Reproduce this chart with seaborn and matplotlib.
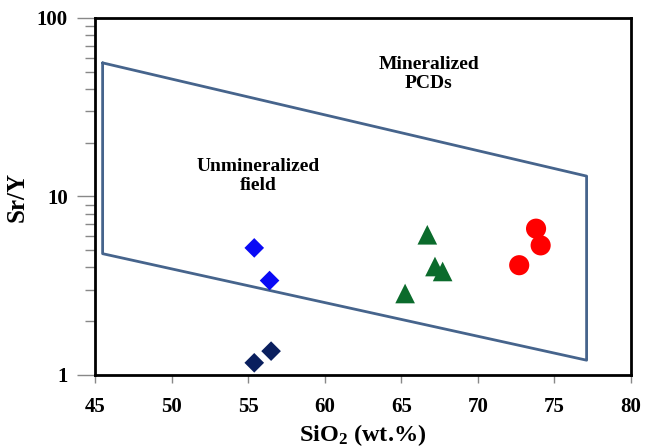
import numpy as np
import pandas as pd
import matplotlib
matplotlib.use("Agg")
import matplotlib.pyplot as plt
import seaborn as sns

# ---- data ----
blue_x = [55.4, 56.4]
blue_y = [5.15, 3.38]
navy_x = [55.4, 56.5]
navy_y = [1.17, 1.36]
green_x = [66.7, 67.2, 67.7, 65.25]
green_y = [6.1, 4.05, 3.8, 2.86]
red_x = [73.8, 74.1, 72.7]
red_y = [6.6, 5.32, 4.12]

field_x = [45.5, 77.1, 77.1, 45.5, 45.5]
field_y = [56.0, 13.0, 1.21, 4.78, 56.0]

x_ticks = [45, 50, 55, 60, 65, 70, 75, 80]
y_ticks = [1, 10, 100]
y_tick_labels = ["1", "10", "100"]

sns.set_theme(style="white")
plt.rcParams['font.family'] = ['Liberation Serif', 'DejaVu Serif']
plt.rcParams['font.weight'] = 'bold'
plt.rcParams['mathtext.fontset'] = 'custom'
plt.rcParams['mathtext.rm'] = 'Liberation Serif:bold'
plt.rcParams['mathtext.default'] = 'rm'
plt.rcParams['text.color'] = 'black'
plt.rcParams['axes.labelcolor'] = 'black'
plt.rcParams['xtick.labelcolor'] = 'black'
plt.rcParams['ytick.labelcolor'] = 'black'

fig = plt.figure(figsize=(6.46, 4.48), dpi=100)
ax = fig.add_axes([0.147, 0.163, 0.9768 - 0.147, 0.96 - 0.163])

field = pd.DataFrame({"x": field_x, "y": field_y, "i": range(len(field_x))})
sns.lineplot(data=field, x="x", y="y", sort=False, estimator=None, ax=ax,
             color="#46648c", lw=2.0)

groups = [
    (blue_x, blue_y, "D", "#0a0af5", 100),
    (navy_x, navy_y, "D", "#0a1f5e", 100),
    (green_x, green_y, "^", "#0b6b2c", 200),
    (red_x, red_y, "o", "#ff0000", 210),
]
for gx, gy, m, c, s in groups:
    df = pd.DataFrame({"x": gx, "y": gy})
    sns.scatterplot(data=df, x="x", y="y", marker=m, color=c, s=s,
                    edgecolor="none", linewidth=0, ax=ax, zorder=3)

ax.set_yscale("log")
ax.set_xlim(45, 80)
ax.set_ylim(1, 100)
ax.set_xticks(x_ticks)
ax.set_xticklabels([str(t) for t in x_ticks])
ax.set_yticks(y_ticks)
ax.set_yticklabels(y_tick_labels)

ax.tick_params(axis="x", which="major", direction="out", length=6,
               width=1.0, color="#888888", labelsize=15, pad=10, bottom=True,
               labelcolor="black")
ax.tick_params(axis="y", which="major", direction="out", length=13,
               width=1.0, color="#888888", labelsize=15, pad=6.5, left=True,
               labelcolor="black")
ax.tick_params(axis="y", which="minor", direction="out", length=7.5,
               width=1.0, color="#888888", left=True)
ax.tick_params(axis="x", which="minor", bottom=False)
for lab in ax.get_xticklabels() + ax.get_yticklabels():
    lab.set_fontweight("bold")

for sp in ax.spines.values():
    sp.set_color("black")
    sp.set_linewidth(2.0)

ax.set_xlabel("SiO$_2$ (wt.%)", fontsize=17.5, fontweight="bold", color="black")
ax.set_ylabel("Sr/Y", fontsize=18, fontweight="bold", color="black")
ax.xaxis.set_label_coords(0.499, -0.133)
ax.yaxis.set_label_coords(-0.123, 0.5)

ax.text(66.78, 48.6, "Mineralized\nPCDs", ha="center", va="center",
        fontsize=14, fontweight="bold", linespacing=1.15, color="black")
ax.text(55.65, 13.0, "Unmineralized\nfield", ha="center", va="center",
        fontsize=14, fontweight="bold", linespacing=1.15, color="black")

fig.savefig("out.png", dpi=100, facecolor="white")
